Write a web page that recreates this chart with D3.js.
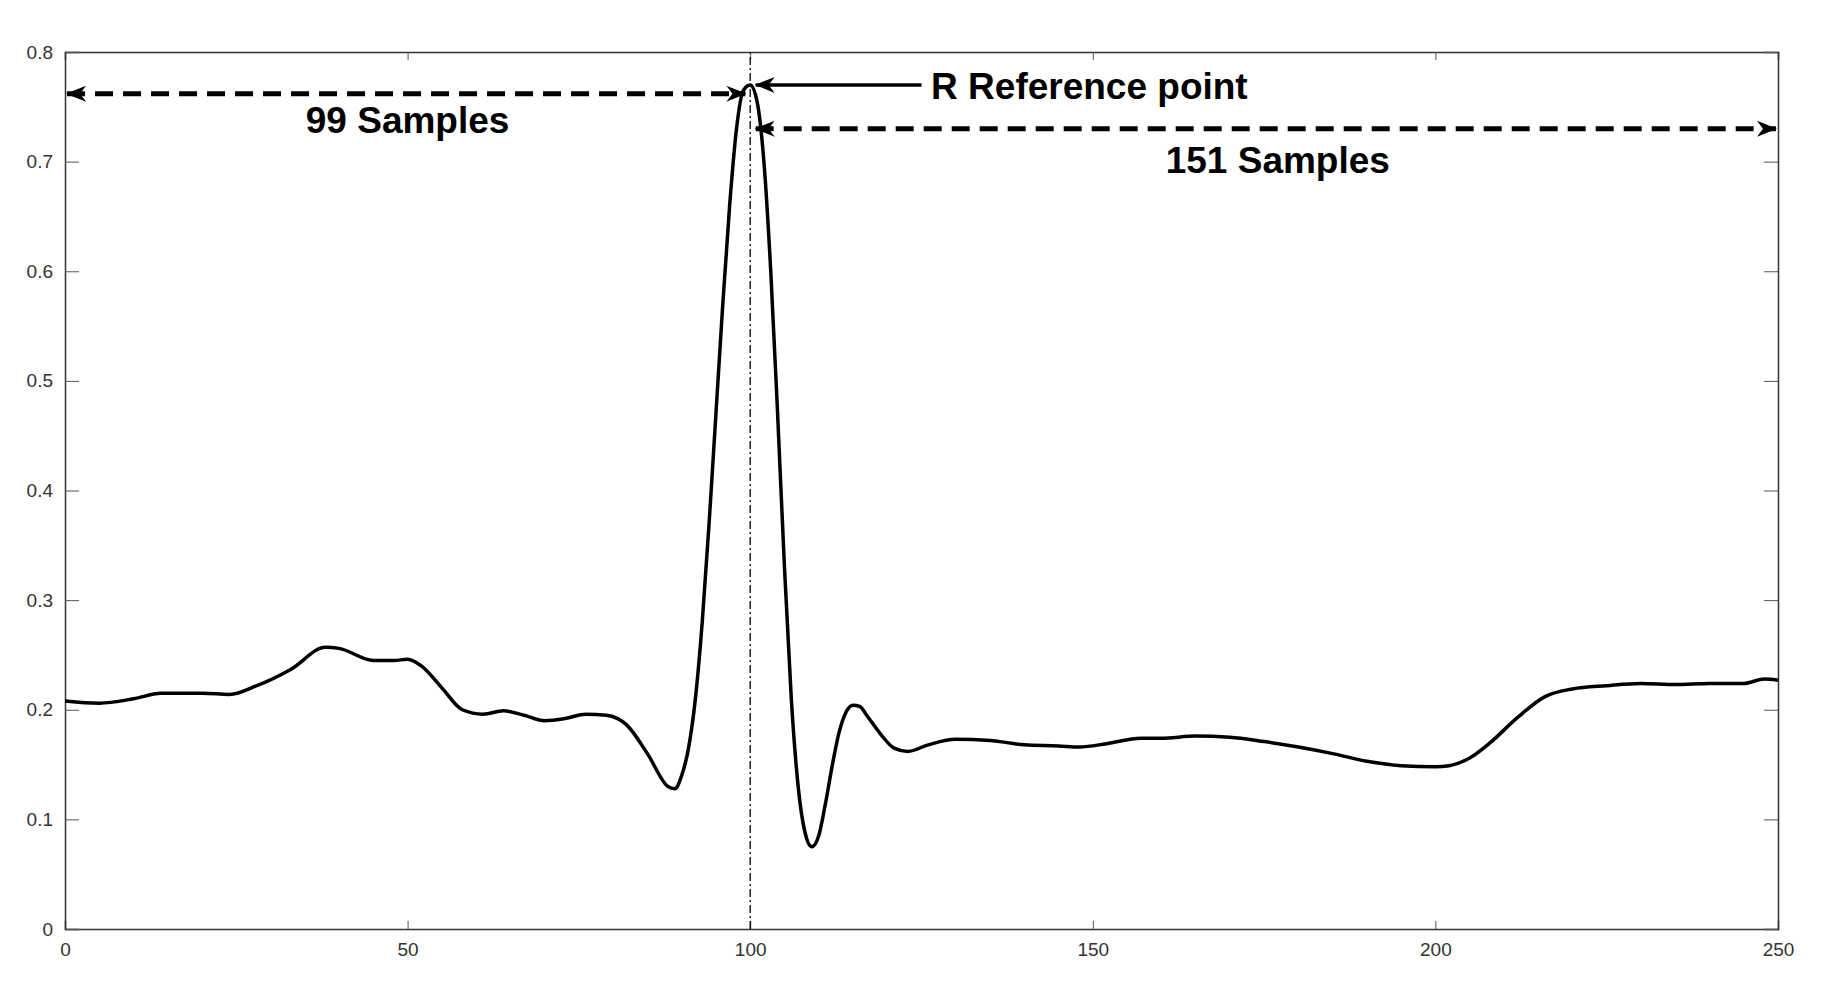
<!DOCTYPE html>
<html><head><meta charset="utf-8">
<script src="https://cdn.jsdelivr.net/npm/d3@7"></script>
<style>body{margin:0;background:#fff}svg{display:block}</style>
</head><body>
<svg id="c" width="1823" height="1002"></svg>
<script>
const sampleX=[0,5,10,14,20,24,28,33,38,40,45,48,50,52,55,58,61,64,67,70,73,76,79,82,85,88,89,90,91,92,93,94,95,96,97,98,99,100,101,102,103,104,105,106,107,108,109,110,111,112,113,114,115,116,117,119,121,123,126,130,135,140,145,148,152,157,160,165,170,175,180,185,190,195,200,202,205,208,212,216,220,225,230,235,240,245,248,250];
const signal=[0.208,0.206,0.210,0.215,0.215,0.214,0.222,0.237,0.257,0.256,0.245,0.245,0.246,0.240,0.220,0.200,0.196,0.199,0.195,0.190,0.192,0.196,0.195,0.186,0.160,0.130,0.128,0.140,0.165,0.210,0.280,0.370,0.470,0.570,0.660,0.730,0.765,0.770,0.755,0.700,0.600,0.470,0.330,0.210,0.130,0.088,0.075,0.085,0.115,0.150,0.180,0.198,0.204,0.203,0.195,0.178,0.165,0.162,0.168,0.173,0.172,0.168,0.167,0.166,0.169,0.174,0.174,0.176,0.175,0.171,0.166,0.160,0.153,0.149,0.148,0.149,0.156,0.170,0.193,0.212,0.219,0.222,0.224,0.223,0.224,0.224,0.228,0.227];
const xTicks=[0,50,100,150,200,250];
const yTicks=[0,0.1,0.2,0.3,0.4,0.5,0.6,0.7,0.8];
const labels=["99 Samples","151 Samples","R Reference point"];

const L=65,R=1778,T=52,B=929;
const svg=d3.select("#c");
const x=d3.scaleLinear().domain([0,250]).range([L,R]);
const y=d3.scaleLinear().domain([0,0.8]).range([B,T]);
const defs=svg.append("defs");
defs.append("marker").attr("id","ah").attr("viewBox","0 0 20 20").attr("refX",19).attr("refY",10)
 .attr("markerWidth",20).attr("markerHeight",20).attr("markerUnits","userSpaceOnUse").attr("orient","auto-start-reverse")
 .append("path").attr("d","M0,2 L20,10 L0,18 L6,10 Z").attr("fill","#000");

const ax=svg.append("g").attr("transform",`translate(0,${B})`).call(d3.axisBottom(x).tickValues(xTicks).tickSize(-8).tickPadding(14));
const axT=svg.append("g").attr("transform",`translate(0,${T})`).call(d3.axisTop(x).tickValues(xTicks).tickSize(-8).tickFormat(""));
const ay=svg.append("g").attr("transform",`translate(${L},0)`).call(d3.axisLeft(y).tickValues(yTicks).tickSize(-14).tickPadding(12).tickFormat(d=>d===0?"0":d3.format(".1f")(d)));
const ayR=svg.append("g").attr("transform",`translate(${R},0)`).call(d3.axisRight(y).tickValues(yTicks).tickSize(-14).tickFormat(""));
[ax,axT,ay,ayR].forEach(g=>{g.select(".domain").attr("stroke","#333").attr("stroke-width",1.5);
 g.selectAll(".tick line").attr("stroke","#555");
 g.selectAll("text").attr("fill","#333").attr("font-size",19).attr("font-family","Liberation Sans, Arial, sans-serif");});

svg.append("line").attr("x1",x(100)).attr("x2",x(100)).attr("y1",y(0)).attr("y2",y(0.8))
 .attr("stroke","#000").attr("stroke-width",1.3).attr("stroke-dasharray","8,3,2,3");

svg.append("path").datum(sampleX.map((d,i)=>[d,signal[i]]))
 .attr("d",d3.line().x(d=>x(d[0])).y(d=>y(d[1])).curve(d3.curveMonotoneX))
 .attr("fill","none").attr("stroke","#000").attr("stroke-width",3.5);

function arrow(x1,y1,x2,y2,dash,both){
 const l=svg.append("line").attr("x1",x(x1)).attr("y1",y(y1)).attr("x2",x(x2)).attr("y2",y(y2))
  .attr("stroke","#000").attr("stroke-width",dash?5:3.5).attr("marker-end","url(#ah)");
 if(dash)l.attr("stroke-dasharray","18,10");
 if(both)l.attr("marker-start","url(#ah)");
}
arrow(0.3,0.762,99.3,0.762,true,true);
arrow(100.8,0.730,249.7,0.730,true,true);
arrow(125,0.770,100.8,0.770,false,false);

const tf="Liberation Sans, Arial, sans-serif";
svg.append("text").attr("x",x(50)).attr("y",y(0.726)).attr("text-anchor","middle").attr("font-family",tf).attr("font-weight","bold").attr("font-size",37).text(labels[0]);
svg.append("text").attr("x",x(177)).attr("y",y(0.690)).attr("text-anchor","middle").attr("font-family",tf).attr("font-weight","bold").attr("font-size",37).text(labels[1]);
svg.append("text").attr("x",x(126.4)).attr("y",y(0.757)).attr("font-family",tf).attr("font-weight","bold").attr("font-size",37).text(labels[2]);
</script></body></html>
